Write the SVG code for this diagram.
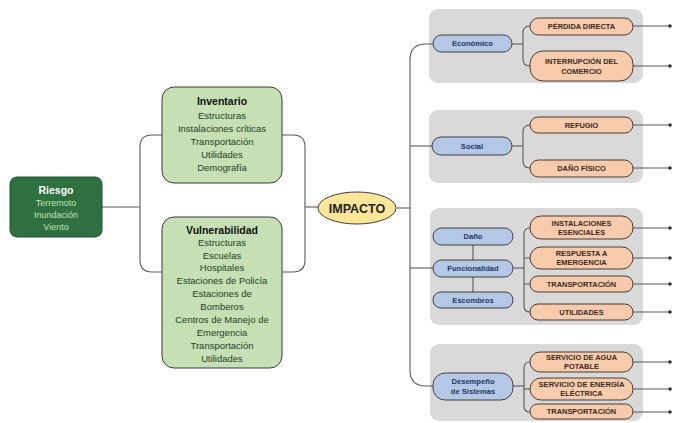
<svg xmlns="http://www.w3.org/2000/svg" width="674" height="423" viewBox="0 0 674 423">
<style>
text{font-family:"Liberation Sans",Arial,sans-serif;text-anchor:middle;dominant-baseline:central}
.panel{fill:#d9d9d9}
.green{fill:#c5e0b4;stroke:#3a3a3a;stroke-width:1}
.gt{font-size:9.5px;fill:#1f3f25}
.gh{font-size:10.5px;font-weight:bold;fill:#111}
.blue{fill:#b4c7e7;stroke:#404040;stroke-width:1}
.bt{font-size:7.6px;font-weight:bold;fill:#1f3864}
.org{fill:#f8cbad;stroke:#4a3a30;stroke-width:1}
.ot{font-size:7.4px;font-weight:bold;fill:#3b2a20}
.con path{fill:none;stroke:#595959;stroke-width:1.1}
.dot{fill:#333}
</style>
<rect width="674" height="423" fill="#ffffff"/>
<g id="panels">
<rect class="panel" x="429" y="9" width="214" height="74" rx="9"/>
<rect class="panel" x="429" y="110" width="214" height="73" rx="9"/>
<rect class="panel" x="430" y="208" width="213" height="117" rx="9"/>
<rect class="panel" x="430" y="344" width="213" height="77" rx="9"/>
</g>
<g class="con" id="connectors">
<path d="M102,207 H140"/>
<path d="M162,135 H152 Q140,135 140,147 V260 Q140,272 152,272 H162"/>
<path d="M282,135 H293 Q305,135 305,147 V260 Q305,272 293,272 H282"/>
<path d="M305,207 H318"/>
<path d="M397,208 H410"/>
<path d="M433,44 H426 Q410,44 410,60 V370 Q410,386 426,386 H433"/>
<path d="M410,146 H432"/>
<path d="M410,268 H433"/>
<path d="M512,44 H523"/>
<path d="M530,26 Q523,26 523,33 V59 Q523,66 530,66"/>
<path d="M512,146 H523"/>
<path d="M530,125 Q523,125 523,132 V161 Q523,168 530,168"/>
<path d="M513,268 H524"/>
<path d="M530,228 Q524,228 524,234 V306 Q524,312 530,312"/>
<path d="M524,258 H530 M524,284 H530"/>
<path d="M473,245 V260 M473,277 V292"/>
<path d="M513,386 H524"/>
<path d="M530,362 Q524,362 524,368 V406 Q524,412 530,412"/>
<path d="M524,389 H530"/>
<path d="M633,26 H670 M633,66 H670 M633,125 H670 M633,168 H670 M633,228 H670 M633,258 H670 M633,284 H670 M633,312 H670 M633,362 H670 M633,389 H670 M633,412 H670"/>
<g class="dot">
<circle cx="670" cy="26" r="1.8"/><circle cx="670" cy="66" r="1.8"/><circle cx="670" cy="125" r="1.8"/><circle cx="670" cy="168" r="1.8"/><circle cx="670" cy="228" r="1.8"/><circle cx="670" cy="258" r="1.8"/><circle cx="670" cy="284" r="1.8"/><circle cx="670" cy="312" r="1.8"/><circle cx="670" cy="362" r="1.8"/><circle cx="670" cy="389" r="1.8"/><circle cx="670" cy="412" r="1.8"/>
</g>
</g>
<g id="riesgo">
<rect x="10" y="177" width="92" height="60" rx="7" fill="#2e7040" stroke="#234f2f"/>
<text x="56" y="190" style="font-size:10.5px;font-weight:bold;fill:#ffffff">Riesgo</text>
<text x="56" y="203" style="font-size:9px;fill:#c5e0b4">Terremoto</text>
<text x="56" y="215" style="font-size:9px;fill:#c5e0b4">Inundación</text>
<text x="56" y="227" style="font-size:9px;fill:#c5e0b4">Viento</text>
</g>
<g id="inventario">
<rect class="green" x="162" y="87" width="120" height="96" rx="12"/>
<text class="gh" x="222" y="101">Inventario</text>
<text class="gt" x="222" y="115">Estructuras</text>
<text class="gt" x="222" y="128">Instalaciones críticas</text>
<text class="gt" x="222" y="141">Transportación</text>
<text class="gt" x="222" y="154">Utilidades</text>
<text class="gt" x="222" y="167">Demografía</text>
</g>
<g id="vulnerabilidad">
<rect class="green" x="162" y="217" width="120" height="151" rx="12"/>
<text class="gh" x="222" y="230">Vulnerabilidad</text>
<text class="gt" x="222" y="242">Estructuras</text>
<text class="gt" x="222" y="255">Escuelas</text>
<text class="gt" x="222" y="267">Hospitales</text>
<text class="gt" x="222" y="280">Estaciones de Policía</text>
<text class="gt" x="222" y="293">Estaciones de</text>
<text class="gt" x="222" y="306">Bomberos</text>
<text class="gt" x="222" y="319">Centros de Manejo de</text>
<text class="gt" x="222" y="332">Emergencia</text>
<text class="gt" x="222" y="345">Transportación</text>
<text class="gt" x="222" y="358">Utilidades</text>
</g>
<g id="impacto">
<ellipse cx="357" cy="208" rx="39" ry="16" fill="#ffe699" stroke="#3a3a3a"/>
<text x="357" y="209" style="font-size:12.5px;font-weight:bold;fill:#222">IMPACTO</text>
</g>
<g id="economico"><rect class="blue" x="433" y="35" width="79" height="17" rx="8.5"/><text class="bt" x="472.5" y="43.5">Económico</text></g>
<g id="social"><rect class="blue" x="432" y="137" width="80" height="18" rx="9"/><text class="bt" x="472" y="146">Social</text></g>
<g id="dano"><rect class="blue" x="433" y="228" width="80" height="17" rx="8.5"/><text class="bt" x="473" y="236.5">Daño</text></g>
<g id="funcionalidad"><rect class="blue" x="433" y="260" width="80" height="17" rx="8.5"/><text class="bt" x="473" y="268.5">Funcionalidad</text></g>
<g id="escombros"><rect class="blue" x="433" y="292" width="80" height="16" rx="8"/><text class="bt" x="473" y="300">Escombros</text></g>
<g id="desempeno"><rect class="blue" x="433" y="373" width="80" height="27" rx="12"/><text class="bt" x="473" y="381.5">Desempeño</text><text class="bt" x="473" y="391.5">de Sistemas</text></g>
<g id="perdida"><rect class="org" x="530" y="18" width="103" height="17" rx="8.5"/><text class="ot" x="581.5" y="26.5">PÉRDIDA DIRECTA</text></g>
<g id="interrupcion"><rect class="org" x="530" y="51" width="103" height="30" rx="13"/><text class="ot" x="581.5" y="61.5">INTERRUPCIÓN DEL</text><text class="ot" x="581.5" y="71.5">COMERCIO</text></g>
<g id="refugio"><rect class="org" x="530" y="117" width="103" height="16" rx="8"/><text class="ot" x="581.5" y="125">REFUGIO</text></g>
<g id="danofisico"><rect class="org" x="530" y="160" width="103" height="17" rx="8.5"/><text class="ot" x="581.5" y="168.5">DAÑO FÍSICO</text></g>
<g id="instalaciones"><rect class="org" x="530" y="216" width="103" height="23" rx="11"/><text class="ot" x="581.5" y="223">INSTALACIONES</text><text class="ot" x="581.5" y="232">ESENCIALES</text></g>
<g id="respuesta"><rect class="org" x="530" y="247" width="103" height="22" rx="11"/><text class="ot" x="581.5" y="253.5">RESPUESTA A</text><text class="ot" x="581.5" y="262.5">EMERGENCIA</text></g>
<g id="transportacion1"><rect class="org" x="530" y="276" width="103" height="16" rx="8"/><text class="ot" x="581.5" y="284">TRANSPORTACIÓN</text></g>
<g id="utilidades"><rect class="org" x="530" y="304" width="103" height="16" rx="8"/><text class="ot" x="581.5" y="312">UTILIDADES</text></g>
<g id="agua"><rect class="org" x="530" y="352" width="103" height="20" rx="10"/><text class="ot" x="581.5" y="357.5">SERVICIO DE AGUA</text><text class="ot" x="581.5" y="366.5">POTABLE</text></g>
<g id="energia"><rect class="org" x="530" y="378" width="103" height="22" rx="11"/><text class="ot" x="581.5" y="384.5" textLength="86" lengthAdjust="spacingAndGlyphs">SERVICIO DE ENERGÍA</text><text class="ot" x="581.5" y="393.5">ELÉCTRICA</text></g>
<g id="transportacion2"><rect class="org" x="530" y="404" width="103" height="15" rx="7.5"/><text class="ot" x="581.5" y="411.5">TRANSPORTACIÓN</text></g>
</svg>
